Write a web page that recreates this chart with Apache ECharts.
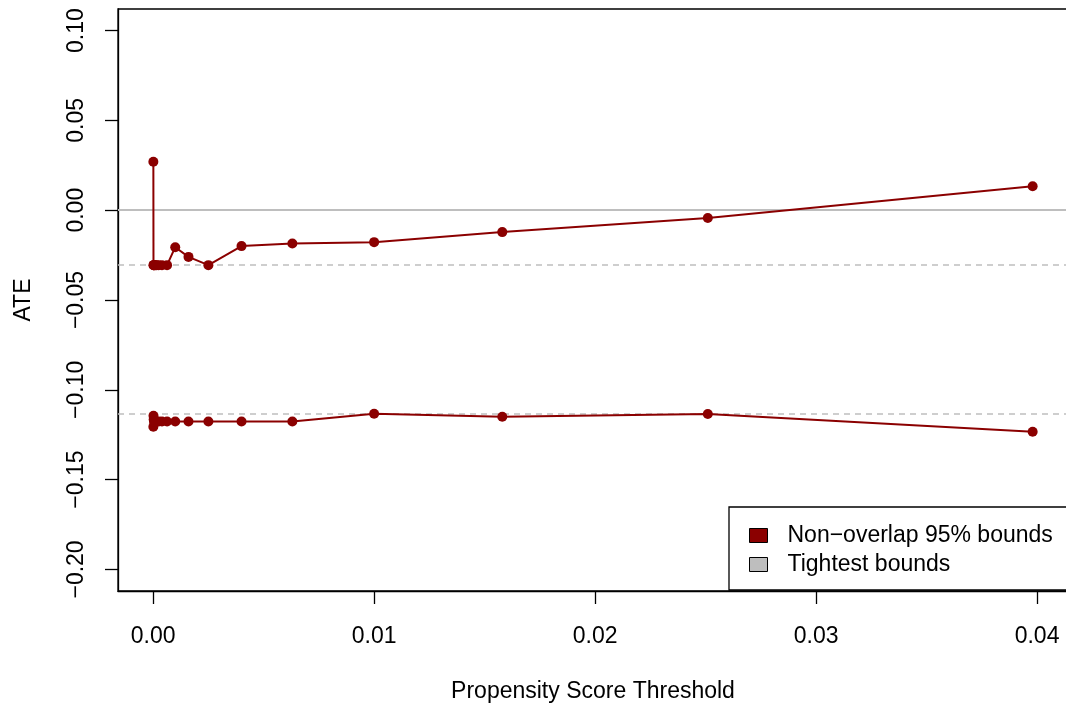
<!DOCTYPE html>
<html>
<head>
<meta charset="utf-8">
<script src="https://cdn.jsdelivr.net/npm/echarts@6/dist/echarts.min.js"></script>
<style>
  html, body { margin: 0; padding: 0; background: #fff; }
  #chart { width: 1066px; height: 704px; }
</style>
</head>
<body>
<div id="chart"></div>
<script>
// propensity score thresholds (x)
var thresholds = [0.00001, 0.000016, 0.000025, 0.00004, 0.000063, 0.0001, 0.00016, 0.00025, 0.0004, 0.00063,
  0.001, 0.0016, 0.0025, 0.004, 0.0063, 0.01, 0.0158, 0.0251, 0.0398];
// non-overlap 95% bounds, upper and lower
var upperBound = [0.027, -0.0306, -0.0306, -0.0306, -0.0306, -0.0306, -0.0306, -0.0306, -0.0306, -0.0306,
  -0.0206, -0.026, -0.0306, -0.020, -0.0185, -0.0178, -0.0122, -0.0044, 0.0133];
var lowerBound = [-0.1206, -0.1145, -0.1165, -0.1176, -0.1176, -0.1176, -0.1176, -0.1176, -0.1176, -0.1176,
  -0.1176, -0.1176, -0.1176, -0.1176, -0.1176, -0.1133, -0.115, -0.1135, -0.1233];
// tightest bounds (dashed) and the zero reference
var tightestBounds = [-0.0306, -0.1133];
var zeroLine = [0];
var xTicks = [0, 0.01, 0.02, 0.03, 0.04];
var yTicks = [-0.2, -0.15, -0.1, -0.05, 0, 0.05, 0.1];

var RED = '#8B0000';
var GREY = '#BEBEBE';
var FONT = 'Liberation Sans, Arial, Helvetica, sans-serif';
var FS = 23;

function fmt(v) {
  var s = Math.abs(v) < 1e-12 ? '0.00' : v.toFixed(2);
  return s.replace('-', '\u2212');
}
function pairs(xs, ys) {
  var out = [];
  for (var i = 0; i < xs.length; i++) out.push([xs[i], ys[i]]);
  return out;
}

var chart = echarts.init(document.getElementById('chart'), null, { renderer: 'canvas' });

var markData = [];
tightestBounds.forEach(function (v) {
  markData.push({ yAxis: v, lineStyle: { color: GREY, type: [6, 5], width: 1.5 } });
});
zeroLine.forEach(function (v) {
  markData.push({ yAxis: v, lineStyle: { color: GREY, type: 'solid', width: 2 } });
});

function boundSeries(values) {
  return {
    name: 'Non\u2212overlap 95% bounds',
    type: 'line',
    data: pairs(thresholds, values),
    symbol: 'circle', symbolSize: 10, showAllSymbol: true,
    itemStyle: { color: RED, borderColor: RED, borderWidth: 0, opacity: 1 },
    lineStyle: { color: RED, width: 2 },
    emphasis: { disabled: true },
    z: 3
  };
}

var option = {
  animation: false,
  textStyle: { fontFamily: FONT },
  grid: {
    left: 118, top: 9, right: -2, bottom: 113,
    outerBoundsMode: 'none',
    show: true, borderColor: '#000', borderWidth: 1.3, backgroundColor: 'transparent'
  },
  legend: {
    left: 729, top: 507,
    orient: 'vertical',
    padding: [17, 40, 14, 20],
    itemGap: 6,
    itemWidth: 18, itemHeight: 14,
    backgroundColor: '#fff',
    borderColor: '#000', borderWidth: 1.3,
    textStyle: { fontSize: FS, color: '#000', fontFamily: FONT, padding: [0, 0, 0, 15] },
    data: [
      { name: 'Non\u2212overlap 95% bounds', icon: 'rect', itemStyle: { color: RED, borderColor: '#000', borderWidth: 1 } },
      { name: 'Tightest bounds', icon: 'rect', itemStyle: { color: GREY, borderColor: '#000', borderWidth: 1 } }
    ]
  },
  xAxis: {
    type: 'value',
    min: -0.00159, max: 0.0414,
    name: 'Propensity Score Threshold',
    nameLocation: 'middle', nameGap: 89,
    nameTextStyle: { fontSize: FS, color: '#000', fontFamily: FONT },
    axisLine: { show: true, onZero: false, lineStyle: { color: '#000', width: 1.3 } },
    axisTick: { show: true, length: 13, customValues: xTicks, lineStyle: { color: '#000', width: 1.3 } },
    axisLabel: { customValues: xTicks, formatter: fmt, fontSize: FS, color: '#000', margin: 34, fontFamily: FONT },
    splitLine: { show: false }
  },
  yAxis: {
    type: 'value',
    min: -0.212, max: 0.112,
    name: 'ATE',
    nameLocation: 'middle', nameGap: 83, nameRotate: 90,
    nameTextStyle: { fontSize: FS, color: '#000', fontFamily: FONT },
    axisLine: { show: true, onZero: false, lineStyle: { color: '#000', width: 1.3 } },
    axisTick: { show: true, length: 13, customValues: yTicks, lineStyle: { color: '#000', width: 1.3 } },
    axisLabel: { customValues: yTicks, formatter: fmt, rotate: 90, fontSize: FS, color: '#000', margin: 30, fontFamily: FONT },
    splitLine: { show: false }
  },
  series: [
    {
      name: 'Tightest bounds',
      type: 'line',
      data: [],
      z: 1,
      itemStyle: { color: GREY },
      markLine: { silent: true, z: 1, symbol: 'none', precision: 5, label: { show: false }, data: markData }
    },
    boundSeries(upperBound),
    boundSeries(lowerBound)
  ]
};
chart.setOption(option);
</script>
</body>
</html>
